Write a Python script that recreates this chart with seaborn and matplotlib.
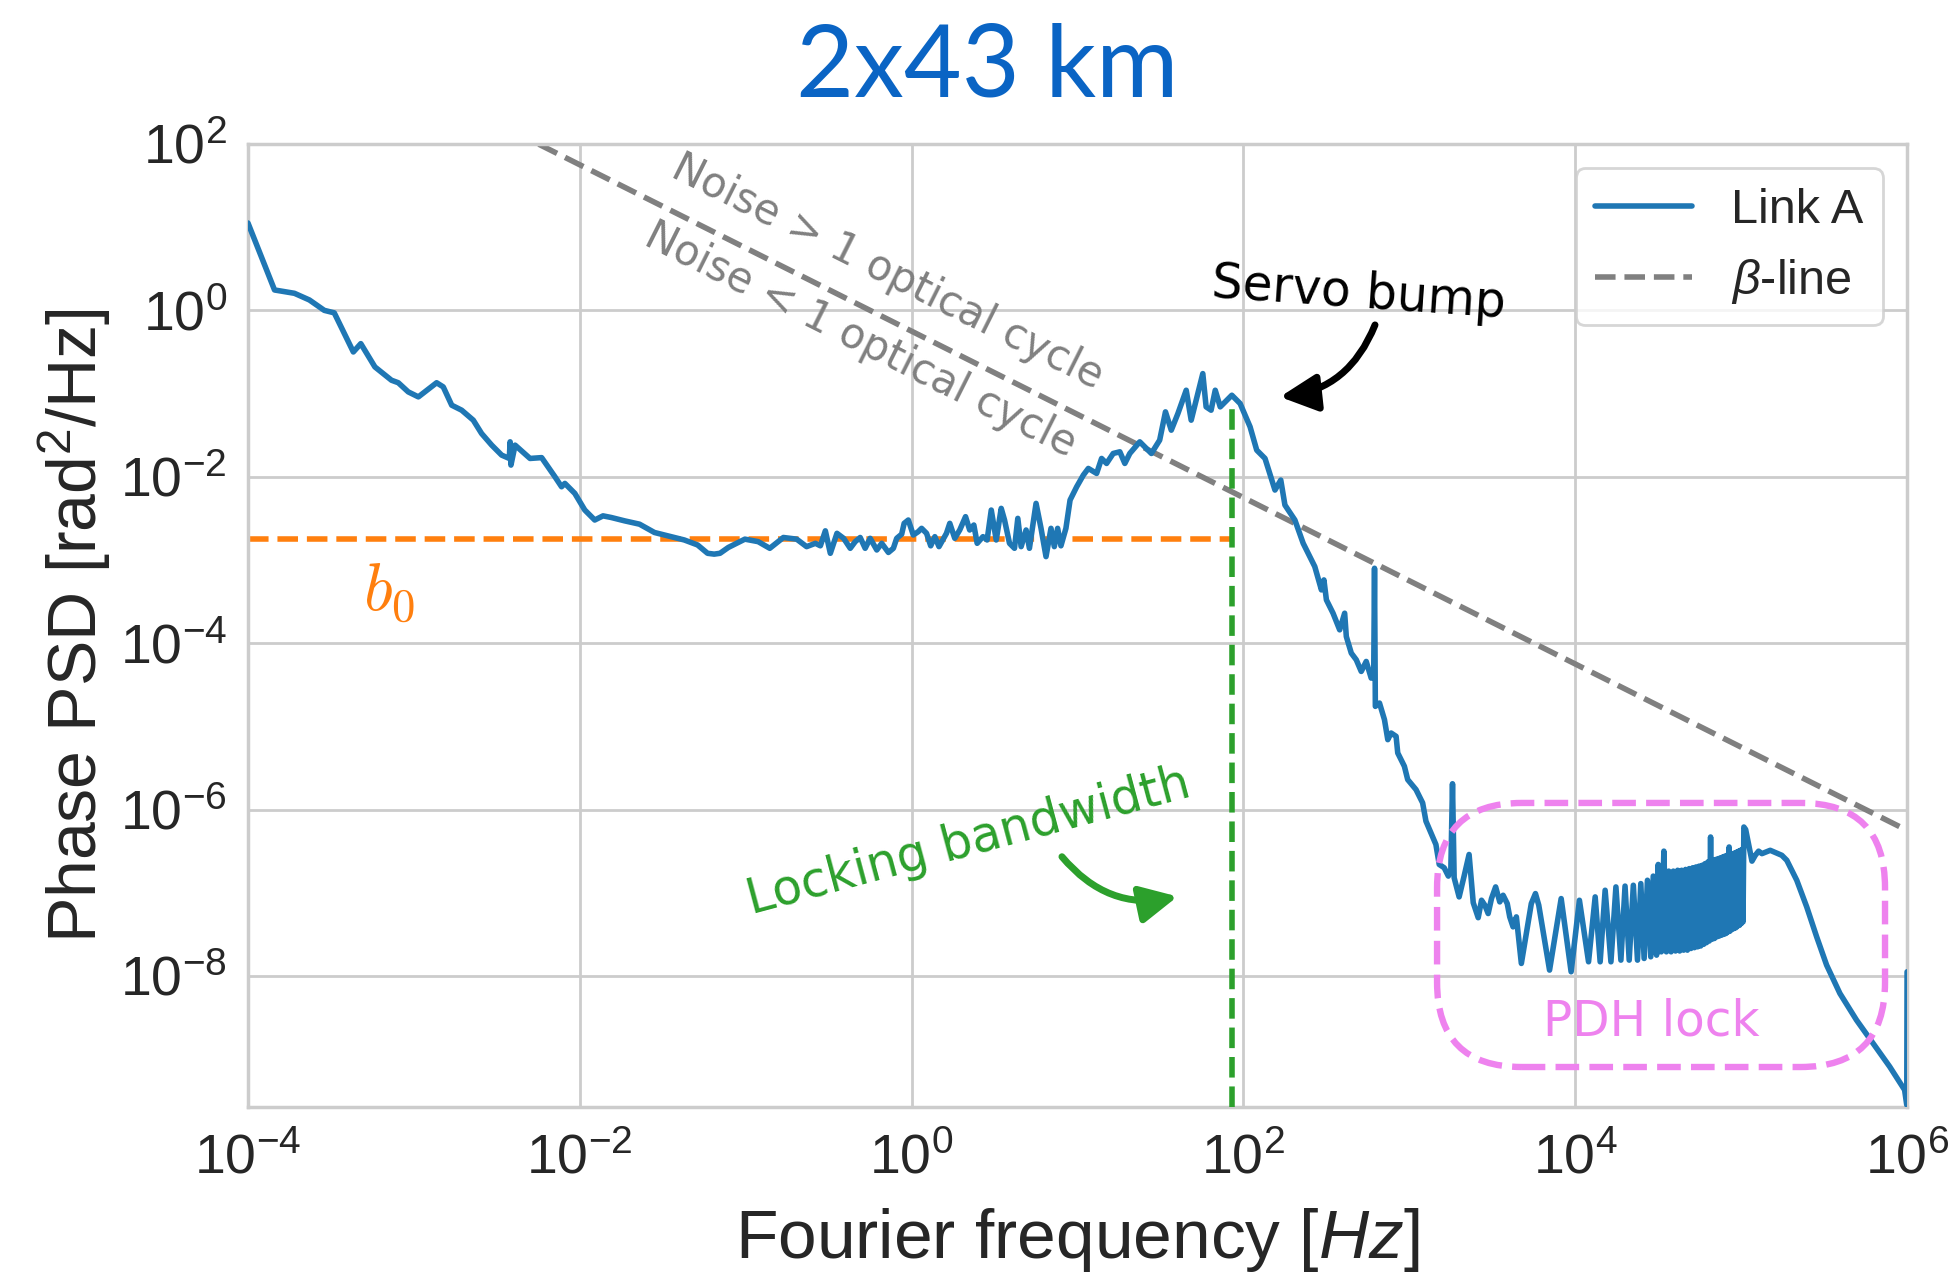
import matplotlib
matplotlib.use("Agg")
import numpy as np
import pandas as pd
import matplotlib.pyplot as plt
import seaborn as sns
from matplotlib.patches import FancyBboxPatch

# ---------------------------------------------------------------------------
# Link A phase PSD, in decades: log10(f / Hz) and log10(S / rad^2 Hz^-1)
# ---------------------------------------------------------------------------
low_log_freq = [
    -4.00, -3.84, -3.72, -3.63, -3.54, -3.48, -3.365, -3.32, -3.235, -3.135,
    -3.094, -3.034, -2.973, -2.863, -2.823, -2.772, -2.712, -2.642, -2.592, -2.531,
    -2.471, -2.425, -2.42, -2.415, -2.39, -2.30, -2.23, -2.15, -2.11, -2.09,
    -2.03, -1.97, -1.91, -1.86, -1.81, -1.73, -1.64, -1.55, -1.47, -1.37,
    -1.29, -1.23, -1.19, -1.155, -1.105, -1.005, -0.925, -0.855, -0.773, -0.693,
    -0.633, -0.58, -0.55, -0.52, -0.49, -0.45, -0.41, -0.37, -0.34, -0.31,
    -0.28, -0.25, -0.21, -0.18, -0.14, -0.11, -0.09, -0.06, -0.045, -0.02,
    0.01, 0.04, 0.06, 0.09, 0.115, 0.14, 0.165, 0.21, 0.23, 0.26,
    0.29, 0.325, 0.35, 0.375, 0.395, 0.43, 0.455, 0.48, 0.51, 0.54,
    0.56, 0.59, 0.62, 0.64, 0.66, 0.69, 0.71, 0.75, 0.78, 0.81,
    0.84, 0.86, 0.88, 0.90, 0.93, 0.955, 0.995, 1.035, 1.065, 1.115,
    1.145, 1.175, 1.215, 1.255, 1.285, 1.315, 1.375, 1.445, 1.495, 1.53,
    1.565, 1.605, 1.655, 1.685, 1.715, 1.755, 1.775, 1.805, 1.83, 1.86,
    1.93, 1.98, 2.04, 2.08, 2.13, 2.19, 2.225, 2.25, 2.31, 2.36,
    2.43, 2.47, 2.485, 2.50, 2.54, 2.58, 2.61, 2.62, 2.65, 2.68,
    2.71, 2.74, 2.77, 2.785, 2.79, 2.795, 2.82, 2.85, 2.87, 2.89,
    2.92, 2.93, 2.97, 2.99, 3.04, 3.08, 3.10, 3.13, 3.16, 3.18,
    3.21, 3.235, 3.25, 3.26, 3.27, 3.30, 3.33, 3.36, 3.385, 3.415,
    3.435, 3.455, 3.475, 3.495, 3.52, 3.545, 3.565, 3.59, 3.605, 3.625,
    3.645, 3.675, 3.705, 3.735, 3.76, 3.78, 3.845, 3.915, 3.975, 4.025,
    4.08, 4.12, 4.15, 4.18, 4.215, 4.245, 4.275, 4.30, 4.325, 4.35,
    4.375, 4.395, 4.415, 4.435, 4.455, 4.47, 4.49, 4.50,
]
low_log_psd = [
    1.05, 0.245, 0.205, 0.125, 0.00, -0.03, -0.50, -0.40, -0.68, -0.84,
    -0.87, -0.98, -1.04, -0.87, -0.92, -1.14, -1.20, -1.32, -1.48, -1.62,
    -1.74, -1.78, -1.58, -1.86, -1.62, -1.78, -1.77, -2.00, -2.12, -2.08,
    -2.20, -2.40, -2.52, -2.47, -2.49, -2.53, -2.57, -2.67, -2.71, -2.76,
    -2.82, -2.92, -2.93, -2.92, -2.85, -2.75, -2.78, -2.86, -2.73, -2.75,
    -2.84, -2.80, -2.83, -2.65, -2.92, -2.68, -2.74, -2.86, -2.78, -2.73,
    -2.86, -2.74, -2.88, -2.80, -2.91, -2.86, -2.74, -2.69, -2.56, -2.52,
    -2.70, -2.66, -2.62, -2.68, -2.83, -2.72, -2.84, -2.68, -2.56, -2.74,
    -2.64, -2.48, -2.64, -2.58, -2.80, -2.72, -2.76, -2.40, -2.76, -2.38,
    -2.52, -2.80, -2.86, -2.50, -2.84, -2.64, -2.86, -2.32, -2.62, -2.96,
    -2.62, -2.84, -2.62, -2.83, -2.62, -2.28, -2.12, -1.98, -1.90, -1.96,
    -1.78, -1.84, -1.72, -1.70, -1.84, -1.72, -1.58, -1.72, -1.56, -1.22,
    -1.44, -1.24, -0.96, -1.32, -1.08, -0.76, -1.16, -1.20, -0.96, -1.16,
    -1.02, -1.12, -1.40, -1.68, -1.78, -2.16, -2.04, -2.34, -2.52, -2.80,
    -3.08, -3.36, -3.24, -3.48, -3.64, -3.84, -3.64, -3.92, -4.12, -4.20,
    -4.34, -4.22, -4.42, -4.40, -3.10, -4.76, -4.72, -4.92, -5.16, -5.08,
    -5.12, -5.32, -5.48, -5.64, -5.76, -5.92, -6.14, -6.28, -6.42, -6.66,
    -6.70, -6.80, -6.72, -5.69, -6.82, -7.05, -6.80, -6.54, -7.12, -7.30,
    -7.09, -7.15, -7.25, -7.07, -6.93, -7.11, -7.03, -7.13, -7.29, -7.41,
    -7.29, -7.85, -7.49, -7.13, -7.01, -7.15, -7.93, -7.07, -7.95, -7.09,
    -7.83, -7.05, -7.83, -6.97, -7.83, -6.93, -7.81, -6.92, -7.81, -6.91,
    -7.81, -6.89, -7.79, -6.85, -7.77, -6.80, -7.75, -6.66,
]

# PDH-lock comb: alternating troughs and peaks, frequencies in Hz
pdh_comb_freq_hz = [
    33000, 34200, 35400, 36600, 37800, 39000, 40200, 41400, 42600, 43800,
    45000, 46200, 47400, 48600, 49800, 51000, 52200, 53400, 54600, 55800,
    57000, 58200, 59400, 60600, 61800, 63000, 64200, 65400, 66600, 67800,
    69000, 70200, 71400, 72600, 73800, 75000, 76200, 77400, 78600, 79800,
    81000, 82200, 83400, 84600, 85800, 87000, 88200, 89400, 90600, 91800,
    93000, 94200, 95400, 96600, 97800, 99000, 100200, 101400, 102600, 103800,
]
pdh_comb_log_psd = [
    -7.71, -6.50, -7.71, -6.74, -7.71, -6.74, -7.70, -6.73, -7.70, -6.73,
    -7.69, -6.72, -7.69, -6.71, -7.67, -6.70, -7.66, -6.69, -7.65, -6.68,
    -7.64, -6.67, -7.62, -6.65, -7.60, -6.63, -7.58, -6.33, -7.56, -6.61,
    -7.55, -6.60, -7.53, -6.59, -7.52, -6.58, -7.51, -6.57, -7.50, -6.56,
    -7.49, -6.55, -7.47, -6.45, -7.46, -6.54, -7.44, -6.53, -7.43, -6.52,
    -7.42, -6.51, -7.40, -6.50, -7.39, -6.49, -7.37, -6.48, -7.35, -6.21,
]

high_log_freq = [5.027, 5.065, 5.085, 5.105, 5.125, 5.175, 5.245, 5.275, 5.335, 5.395,
                 5.455, 5.515, 5.595, 5.695, 5.795, 5.895, 5.985, 5.998, 6.0]
high_log_psd = [-6.24, -6.62, -6.55, -6.50, -6.53, -6.49, -6.55, -6.61, -6.85, -7.17,
                -7.53, -7.87, -8.21, -8.53, -8.81, -9.09, -9.37, -9.55, -7.95]

# beta-separation line end points (slope -1 in log-log)
beta_freq = [1e-4, 1e6]
beta_psd = [5618.0, 5.618e-7]

# reference levels
b0_level = 1.78e-3
locking_bw_hz = 85.0
psd_at_locking_bw = 0.076

x_limits = (1e-4, 1e6)
y_limits = (10 ** -9.575, 1e2)

# ---------------------------------------------------------------------------
sns.set_theme(style="whitegrid")
plt.rcParams["font.family"] = ["Liberation Sans", "DejaVu Sans"]
plt.rcParams.update({
    "mathtext.fontset": "custom",
    "mathtext.rm": "Liberation Sans",
    "mathtext.it": "Liberation Sans:italic",
    "mathtext.bf": "Liberation Sans:bold",
})

link = pd.DataFrame({
    "freq": np.concatenate([10.0 ** np.array(low_log_freq),
                            np.array(pdh_comb_freq_hz, dtype=float),
                            10.0 ** np.array(high_log_freq)]),
    "psd": 10.0 ** np.concatenate([low_log_psd, pdh_comb_log_psd, high_log_psd]),
})
beta = pd.DataFrame({"freq": beta_freq, "psd": beta_psd})

fig = plt.figure(figsize=(9.74, 6.37), dpi=200)
ax_rect = [0.1273, 0.1311, 0.8517, 0.7559]
ax = fig.add_axes(ax_rect)

ax.plot([x_limits[0], locking_bw_hz], [b0_level, b0_level], ls="--",
        color="#ff7f0e", lw=2, zorder=2)
sns.lineplot(data=link, x="freq", y="psd", ax=ax, color="#1f77b4", lw=2,
             label="Link A", estimator=None, sort=False, zorder=3)
sns.lineplot(data=beta, x="freq", y="psd", ax=ax, color="grey", lw=2,
             linestyle="--", label=r"$\beta$-line", zorder=2)
ax.plot([locking_bw_hz, locking_bw_hz], [y_limits[0], psd_at_locking_bw],
        ls="--", color="#2ca02c", lw=2, zorder=4)

ax.set_xscale("log")
ax.set_yscale("log")
ax.set_xlim(*x_limits)
ax.set_ylim(*y_limits)
ax.set_xticks([1e-4, 1e-2, 1e0, 1e2, 1e4, 1e6])
ax.set_yticks([1e-8, 1e-6, 1e-4, 1e-2, 1e0, 1e2])
ax.minorticks_off()
ax.tick_params(axis="x", labelsize=20, pad=3.5)
ax.tick_params(axis="y", labelsize=20, pad=1.5)
ax.set_xlabel("Fourier frequency [$Hz$]", fontsize=25, labelpad=7.5)
ax.set_ylabel("Phase PSD [rad$^2$/Hz]", fontsize=24.5, labelpad=2.5)

# annotations along the beta line
ax.text(10 ** -0.148, 10 ** 0.46, "Noise > 1 optical cycle", color="grey",
        family="DejaVu Sans", fontsize=15, rotation=-26.6, rotation_mode="anchor",
        ha="center", va="center")
ax.text(10 ** -0.31, 10 ** -0.35, "Noise < 1 optical cycle", color="grey",
        family="DejaVu Sans", fontsize=15, rotation=-26.6, rotation_mode="anchor",
        ha="center", va="center")

ax.annotate("", xy=(10 ** 2.22, 10 ** -1.04), xytext=(10 ** 2.793, 10 ** -0.175),
            arrowprops=dict(arrowstyle="-|>", color="black", lw=2.5,
                            connectionstyle="arc3,rad=-0.3", mutation_scale=28,
                            shrinkA=0, shrinkB=0))
ax.text(10 ** 2.697, 10 ** 0.209, "Servo bump", color="black", family="DejaVu Sans",
        fontsize=17.5, rotation=-4, rotation_mode="anchor", ha="center", va="center")

ax.text(10 ** 0.345, 10 ** -6.39, "Locking bandwidth", color="#2ca02c",
        family="DejaVu Sans", fontsize=17.5, rotation=15, rotation_mode="anchor",
        ha="center", va="center")
ax.annotate("", xy=(10 ** 1.603, 10 ** -7.045), xytext=(10 ** 0.906, 10 ** -6.567),
            arrowprops=dict(arrowstyle="-|>", color="#2ca02c", lw=2.5,
                            connectionstyle="arc3,rad=0.3", mutation_scale=28,
                            shrinkA=0, shrinkB=0))

ax.text(10 ** -3.15, 10 ** -3.41, "$b_0$", color="#ff7f0e", fontsize=24,
        math_fontfamily="cm", ha="center", va="center")

# PDH lock region
ax_w_px = fig.get_figwidth() * fig.dpi * ax_rect[2]
ax_h_px = fig.get_figheight() * fig.dpi * ax_rect[3]
box = FancyBboxPatch((0.7167, 0.0415), 0.27, 0.2742,
                     boxstyle="round,pad=0,rounding_size=0.051",
                     mutation_aspect=ax_w_px / ax_h_px,
                     transform=ax.transAxes, fill=False, edgecolor="violet",
                     lw=2.3, ls="--", zorder=5, clip_on=False)
ax.add_patch(box)
ax.text(10 ** 4.46, 10 ** -8.55, "PDH lock", color="violet", family="DejaVu Sans",
        fontsize=17.5, ha="center", va="center")

ax.legend(loc="upper right", fontsize=17.5)

fig.text(0.507, 0.9239, "2x43 km", ha="center", va="baseline", fontsize=36,
         color="#0a64c4", family="Lato")

fig.savefig("out.png", dpi=200)
